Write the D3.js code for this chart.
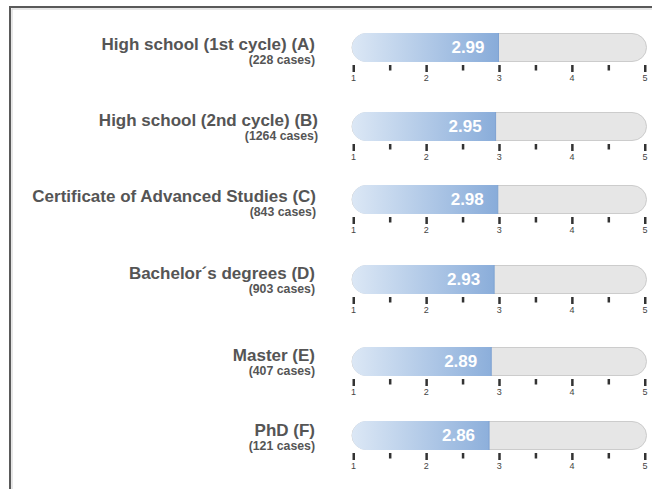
<!DOCTYPE html>
<html>
<head>
<meta charset="utf-8">
<script src="https://cdn.jsdelivr.net/npm/d3@7"></script>
<style>
html,body{margin:0;padding:0;background:#fff;}
svg{display:block;}
</style>
</head>
<body>
<svg id="chart" width="652" height="489"></svg>
<script>
const categories = [
  "High school (1st cycle) (A)",
  "High school (2nd cycle) (B)",
  "Certificate of Advanced Studies (C)",
  "Bachelor\u00b4s degrees (D)",
  "Master (E)",
  "PhD (F)"
];
const cases = [228, 1264, 843, 903, 407, 121];
const values = [2.99, 2.95, 2.98, 2.93, 2.89, 2.86];
const majorTicks = [1, 2, 3, 4, 5];
const minorTicks = [1.5, 2.5, 3.5, 4.5];

// layout (pixels)
const layout = {
  rowTops: [33, 112, 185, 265, 347, 421],
  labelDy: [0, -3, 0, -3, -3, -2],
  labelDx: [0, 3, 1, 0, 0, 0]
};

const svg = d3.select("#chart");
const W = 652, H = 489;
const font = "'Liberation Sans', Arial, Helvetica, sans-serif";

// gradient
const defs = svg.append("defs");
const grad = defs.append("linearGradient").attr("id", "blueGrad")
  .attr("gradientUnits", "userSpaceOnUse")
  .attr("x1", 353).attr("x2", 500).attr("y1", 0).attr("y2", 0);
grad.append("stop").attr("offset", "0%").attr("stop-color", "#dbe7f5");
grad.append("stop").attr("offset", "100%").attr("stop-color", "#87abd9");

// frame
svg.append("rect").attr("x", 10).attr("y", 7).attr("width", W + 20).attr("height", H + 20)
  .attr("fill", "none").attr("stroke", "#5a5a5a").attr("stroke-width", 2);
svg.append("rect").attr("x", 12).attr("y", 9).attr("width", W + 20).attr("height", H + 20)
  .attr("fill", "none").attr("stroke", "#cfcfcf").attr("stroke-width", 1);

const x = d3.scaleLinear().domain([1, 5]).range([353.5, 645]);
const barH = 29;
const r = barH / 2;

const rows = svg.selectAll("g.row").data(categories.map((c, i) => ({
  cat: c, n: cases[i], v: values[i], top: layout.rowTops[i],
  dx: layout.labelDx[i], dy: layout.labelDy[i]
}))).join("g").attr("class", "row")
  .attr("transform", d => `translate(0,${d.top})`);

// labels
rows.append("text")
  .attr("x", d => 315 + d.dx).attr("y", d => 17 + d.dy)
  .attr("text-anchor", "end")
  .attr("font-family", font).attr("font-weight", "bold").attr("font-size", 17)
  .attr("fill", "#555")
  .text(d => d.cat);
rows.append("text")
  .attr("x", d => 315 + d.dx).attr("y", d => 31 + d.dy)
  .attr("text-anchor", "end")
  .attr("font-family", font).attr("font-weight", "bold").attr("font-size", 12.3)
  .attr("fill", "#555")
  .text(d => `(${d.n} cases)`);

// track
rows.append("rect")
  .attr("x", x(1) - 1.5).attr("y", 0.5)
  .attr("width", x(5) - x(1) + 3).attr("height", barH - 1)
  .attr("rx", r).attr("ry", r)
  .attr("fill", "#e6e6e6").attr("stroke", "#cccccc").attr("stroke-width", 1);

// fill: rounded left, square right
rows.append("path")
  .attr("d", d => {
    const x0 = x(1) - 1.5, x1 = x(d.v), h = barH;
    return `M${x1},0 L${x0 + r},0 A${r},${r} 0 0 0 ${x0 + r},${h} L${x1},${h} Z`;
  })
  .attr("fill", "url(#blueGrad)");
rows.append("line")
  .attr("x1", d => x(d.v)).attr("x2", d => x(d.v))
  .attr("y1", 0).attr("y2", barH)
  .attr("stroke", "#7fa3d2").attr("stroke-width", 1);

// value label
rows.append("text")
  .attr("x", d => x(d.v) - 14).attr("y", 20)
  .attr("text-anchor", "end")
  .attr("font-family", font).attr("font-weight", "bold").attr("font-size", 17)
  .attr("fill", "#fff")
  .text(d => d3.format(".2f")(d.v));

// axis ticks
rows.each(function () {
  const g = d3.select(this).append("g").attr("transform", `translate(0,${barH + 3})`);
  g.selectAll("rect.maj").data(majorTicks).join("rect")
    .attr("x", d => x(d) - 1).attr("y", 0).attr("width", 2.5).attr("height", 7)
    .attr("fill", "#333");
  g.selectAll("rect.min").data(minorTicks).join("rect")
    .attr("x", d => x(d) - 1).attr("y", 0).attr("width", 2.5).attr("height", 5.5)
    .attr("fill", "#333");
  g.selectAll("text").data(majorTicks).join("text")
    .attr("x", d => x(d)).attr("y", 16)
    .attr("text-anchor", "middle")
    .attr("font-family", font).attr("font-size", 9)
    .attr("fill", "#444")
    .text(d => d);
});
</script>
</body>
</html>
